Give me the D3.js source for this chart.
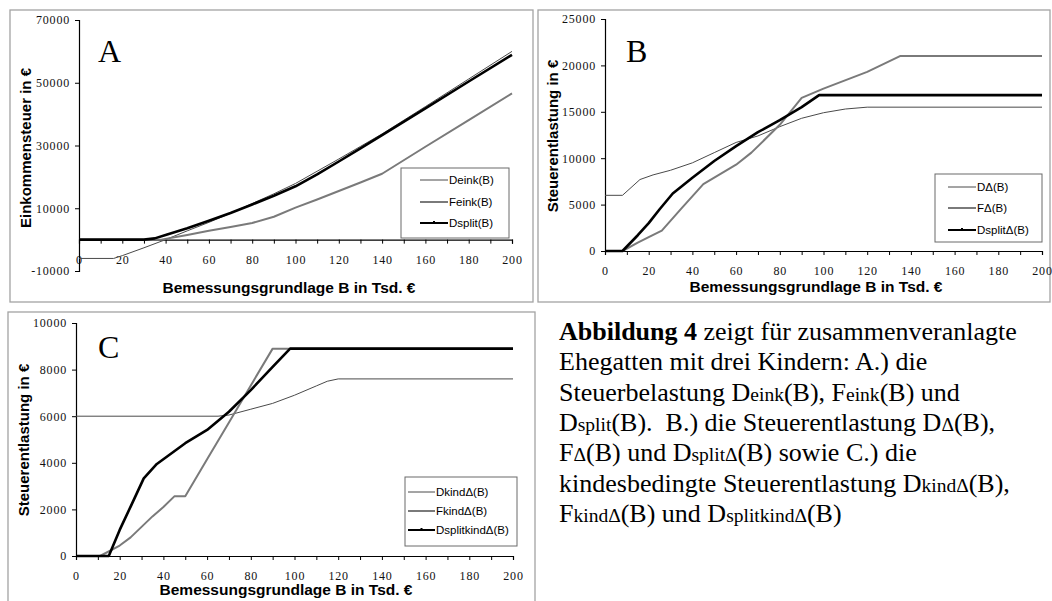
<!DOCTYPE html>
<html>
<head>
<meta charset="utf-8">
<script src="https://cdn.jsdelivr.net/npm/d3@7/dist/d3.min.js"></script>
<style>
  html, body { margin: 0; padding: 0; background: #fff; }
  svg { display: block; }
</style>
</head>
<body>
<svg id="chart" width="1052" height="601"></svg>
<script>
// Bemessungsgrundlage B in Tsd. € (x axis, shared by all panels)
const xTicks = d3.range(0, 201, 10);

// Panel A – Einkommensteuer
const deinkB  = [0, 16, 20, 30, 40, 50, 60, 70, 80, 90, 100, 110, 120, 130, 140, 160, 180, 200];
const deinkV  = [-6000, -6000, -5100, -2600, 0, 2800, 5500, 8400, 11500, 14600, 17900, 21800, 25700, 29700, 33700, 42400, 51200, 60000];
const feinkB  = [0, 38, 50, 60, 70, 80, 90, 100, 110, 120, 130, 140, 160, 180, 200];
const feinkV  = [0, 0, 1500, 2800, 4000, 5300, 7300, 10200, 12800, 15500, 18200, 21000, 29600, 38100, 46600];
const dsplitB = [0, 30, 35, 40, 50, 60, 70, 80, 90, 100, 110, 120, 130, 140, 160, 180, 200];
const dsplitV = [0, 0, 400, 1500, 3600, 6000, 8500, 11200, 14000, 17000, 20800, 24900, 29100, 33300, 41800, 50400, 58900];
const yTicksA = [-10000, 10000, 30000, 50000, 70000];

// Panel B – Steuerentlastung
const dDeltaB      = [0, 8, 16, 22, 30, 40, 50, 60, 70, 80, 90, 100, 110, 120, 200];
const dDeltaV      = [6000, 6000, 7700, 8200, 8700, 9500, 10600, 11700, 12400, 13400, 14300, 14900, 15300, 15500, 15500];
const fDeltaB      = [0, 8, 15, 20, 26, 35, 45, 60, 67, 80, 90, 100, 120, 135, 200];
const fDeltaV      = [0, 0, 900, 1500, 2200, 4600, 7200, 9300, 10600, 13600, 16500, 17500, 19300, 21000, 21000];
const dsplitDeltaB = [0, 8, 15, 20, 25, 31, 40, 50, 60, 70, 80, 90, 98, 200];
const dsplitDeltaV = [0, 0, 1700, 3000, 4500, 6200, 7900, 9700, 11300, 12800, 14100, 15500, 16800, 16800];
const yTicksB = [0, 5000, 10000, 15000, 20000, 25000];

// Panel C – kindesbedingte Steuerentlastung
const dKindB      = [0, 65, 70, 80, 90, 100, 110, 115, 120, 200];
const dKindV      = [6000, 6000, 6050, 6300, 6550, 6900, 7300, 7500, 7600, 7600];
const fKindB      = [0, 11, 20, 25, 30, 35, 40, 45, 50, 60, 70, 80, 90, 200];
const fKindV      = [0, 0, 450, 800, 1250, 1700, 2100, 2560, 2560, 4150, 5730, 7320, 8900, 8900];
const dsplitKindB = [0, 15, 20, 25, 31, 37, 50, 60, 70, 80, 90, 98, 200];
const dsplitKindV = [0, 0, 1120, 2120, 3330, 3950, 4840, 5410, 6190, 7120, 8120, 8900, 8900];
const yTicksC = [0, 2000, 4000, 6000, 8000, 10000];

const zip = (bs, vs) => bs.map((b, i) => [b, vs[i]]);

const SERIF = "'Liberation Serif', 'Times New Roman', serif";
const SANS  = "'Liberation Sans', Arial, sans-serif";

const styles = {
  thin:  { stroke: "#4a4a4a", width: 1 },
  gray:  { stroke: "#7a7a7a", width: 2 },
  black: { stroke: "#000000", width: 2.6 }
};

const svg = d3.select("#chart");

function drawPanel(o) {
  const g = svg.append("g");

  g.append("rect")
    .attr("x", o.frame[0]).attr("y", o.frame[1])
    .attr("width", o.frame[2] - o.frame[0]).attr("height", o.frame[3] - o.frame[1])
    .attr("fill", "#fff").attr("stroke", "#a3a3a3").attr("stroke-width", 1.3);

  const x = d3.scaleLinear().domain([0, 200]).range([o.plot[0], o.plot[1]]);
  const y = d3.scaleLinear().domain(o.yDomain).range([o.plot[3], o.plot[2]]);

  const xAxis = g.append("g")
    .attr("transform", `translate(0,${y(0)})`)
    .call(d3.axisBottom(x).tickValues(xTicks).tickSize(4).tickPadding(11.5)
      .tickFormat(d => d % 20 === 0 ? d : ""));
  const yAxis = g.append("g")
    .attr("transform", `translate(${x(0)},0)`)
    .call(d3.axisLeft(y).tickValues(o.yTicks).tickSize(4).tickPadding(5)
      .tickFormat(d => String(d)));
  [xAxis, yAxis].forEach(a => {
    a.attr("font-family", SERIF).attr("font-size", 12);
    a.select(".domain").attr("stroke", "#000").attr("stroke-width", 1.2);
    a.selectAll(".tick line").attr("stroke", "#000");
    a.selectAll(".tick text")
      .style("font-family", SERIF)
      .style("font-size", "12px")
      .style("letter-spacing", "0.8px")
      .attr("fill", "#111");
  });

  const line = d3.line().x(d => x(d[0])).y(d => y(d[1]));
  o.series.forEach(s => {
    g.append("path")
      .datum(zip(s.b, s.v))
      .attr("fill", "none")
      .attr("stroke", styles[s.style].stroke)
      .attr("stroke-width", styles[s.style].width)
      .attr("stroke-linejoin", "round")
      .attr("d", line);
  });

  // panel letter
  g.append("text")
    .style("font-family", SERIF).style("font-size", "32px")
    .attr("x", o.letterPos[0]).attr("y", o.letterPos[1]).text(o.letter);

  // axis titles
  g.append("text")
    .style("font-family", SANS).style("font-weight", "bold").style("font-size", "15.5px")
    .attr("x", o.xTitlePos[0]).attr("y", o.xTitlePos[1])
    .attr("text-anchor", "middle")
    .text("Bemessungsgrundlage B in Tsd. €");
  g.append("text")
    .style("font-family", SANS).style("font-weight", "bold").style("font-size", "15px")
    .attr("transform", `translate(${o.yTitlePos[0]},${o.yTitlePos[1]}) rotate(-90)`)
    .attr("text-anchor", "middle")
    .text(o.yTitle);

  // legend
  const lg = g.append("g");
  const L = o.legend;
  lg.append("rect")
    .attr("x", L.box[0]).attr("y", L.box[1])
    .attr("width", L.box[2] - L.box[0]).attr("height", L.box[3] - L.box[1])
    .attr("fill", "#fff").attr("stroke", "#6a6a6a").attr("stroke-width", 1);
  o.series.forEach((s, i) => {
    const yy = L.rows[i];
    lg.append("line")
      .attr("x1", L.lineX[0]).attr("x2", L.lineX[1])
      .attr("y1", yy).attr("y2", yy)
      .attr("stroke", styles[s.style].stroke)
      .attr("stroke-width", s.style === "black" ? 2 : styles[s.style].width);
    if (s.style === "black") {
      lg.append("rect")
        .attr("x", (L.lineX[0] + L.lineX[1]) / 2 - 1).attr("y", yy - 2)
        .attr("width", 2).attr("height", 2).attr("fill", "#000");
    }
    lg.append("text")
      .style("font-family", SANS).style("font-size", "11.5px")
      .attr("x", L.lineX[1] + 1).attr("y", yy).attr("dy", "0.35em")
      .text(s.name);
  });
}

drawPanel({
  frame: [10, 10, 533, 302],
  plot: [79, 512, 20, 271],
  yDomain: [-10000, 70000],
  yTicks: yTicksA,
  letter: "A", letterPos: [98, 62],
  xTitlePos: [289, 293],
  yTitle: "Einkommensteuer in €", yTitlePos: [31, 148],
  legend: { box: [401, 168, 509, 238], lineX: [420, 448], rows: [180, 202, 223] },
  series: [
    { name: "Deink(B)",  b: deinkB,  v: deinkV,  style: "thin" },
    { name: "Feink(B)",  b: feinkB,  v: feinkV,  style: "gray" },
    { name: "Dsplit(B)", b: dsplitB, v: dsplitV, style: "black" }
  ]
});

drawPanel({
  frame: [538, 10, 1050, 302],
  plot: [605, 1042, 19, 251],
  yDomain: [0, 25000],
  yTicks: yTicksB,
  letter: "B", letterPos: [626, 62],
  xTitlePos: [816, 292],
  yTitle: "Steuerentlastung in €", yTitlePos: [558, 136],
  legend: { box: [935, 174, 1042, 242], lineX: [948, 976], rows: [187, 208, 230] },
  series: [
    { name: "DΔ(B)",      b: dDeltaB,      v: dDeltaV,      style: "thin" },
    { name: "FΔ(B)",      b: fDeltaB,      v: fDeltaV,      style: "gray" },
    { name: "DsplitΔ(B)", b: dsplitDeltaB, v: dsplitDeltaV, style: "black" }
  ]
});

drawPanel({
  frame: [8, 312, 535, 620],
  plot: [76, 513, 323, 556],
  yDomain: [0, 10000],
  yTicks: yTicksC,
  letter: "C", letterPos: [98, 358],
  xTitlePos: [286, 595],
  yTitle: "Steuerentlastung in €", yTitlePos: [29, 440],
  legend: { box: [405, 477, 517, 546], lineX: [408, 435], rows: [492, 511, 530] },
  series: [
    { name: "DkindΔ(B)",      b: dKindB,      v: dKindV,      style: "thin" },
    { name: "FkindΔ(B)",      b: fKindB,      v: fKindV,      style: "gray" },
    { name: "DsplitkindΔ(B)", b: dsplitKindB, v: dsplitKindV, style: "black" }
  ]
});

// Caption text; subscripts are set in a smaller size on the same baseline
const captionLines = [
  [["Abbildung 4", "b"], [" zeigt für zusammenveranlagte", "n"]],
  [["Ehegatten mit drei Kindern: A.) die", "n"]],
  [["Steuerbelastung D", "n"], ["eink", "s"], ["(B), F", "n"], ["eink", "s"], ["(B) und", "n"]],
  [["D", "n"], ["split", "s"], ["(B).  B.) die Steuerentlastung D", "n"], ["Δ", "s"], ["(B),", "n"]],
  [["F", "n"], ["Δ", "s"], ["(B) und D", "n"], ["splitΔ", "s"], ["(B) sowie C.) die", "n"]],
  [["kindesbedingte Steuerentlastung D", "n"], ["kindΔ", "s"], ["(B),", "n"]],
  [["F", "n"], ["kindΔ", "s"], ["(B) und D", "n"], ["splitkindΔ", "s"], ["(B)", "n"]]
];
const cap = svg.append("text")
  .style("font-family", SERIF).style("font-size", "26px")
  .style("white-space", "pre").attr("fill", "#000");
captionLines.forEach((parts, i) => {
  parts.forEach((p, j) => {
    const t = cap.append("tspan").text(p[0]);
    if (j === 0) t.attr("x", 559).attr("y", 340 + i * 30.3);
    if (p[1] === "b") t.style("font-weight", "bold");
    if (p[1] === "s") t.style("font-size", "19.5px");
  });
});
</script>
</body>
</html>
